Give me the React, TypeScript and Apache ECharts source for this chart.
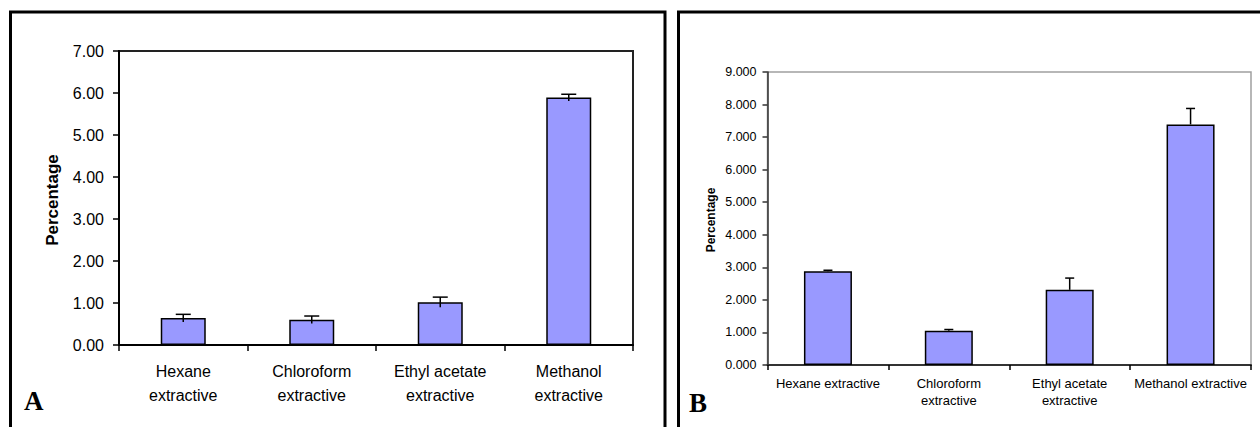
import React, { useEffect, useRef } from "react";
import * as echarts from "echarts";

const categoriesA = ["Hexane\nextractive", "Chloroform\nextractive", "Ethyl acetate\nextractive", "Methanol\nextractive"];
const valuesA = [0.64, 0.6, 1.02, 5.89];
const errorsA = [0.09, 0.09, 0.12, 0.08];

const categoriesB = ["Hexane extractive", "Chloroform\nextractive", "Ethyl acetate\nextractive", "Methanol extractive"];
const valuesB = [2.88, 1.05, 2.31, 7.39];
const errorsB = [0.03, 0.04, 0.36, 0.49];

const yAxisTitle = "Percentage";
const panelLabels = ["A", "B"];

const FONT = "'Liberation Sans', Arial, sans-serif";

function errorSeries(xIdx: number, vals: number[], errs: number[], both: boolean, capW: number) {
  return {
    type: "custom",
    xAxisIndex: xIdx,
    yAxisIndex: xIdx,
    z: 10,
    silent: true,
    data: vals.map((v, i) => [i, v, errs[i]]),
    encode: { x: 0, y: 1 },
    renderItem: (params: any, api: any) => {
      const i = api.value(0);
      const v = api.value(1);
      const e = api.value(2);
      const top = api.coord([i, v + e]);
      const bot = api.coord([i, both ? v - e : v]);
      const st = { stroke: "#000", lineWidth: 1.5 };
      return {
        type: "group",
        children: [
          { type: "line", shape: { x1: top[0], y1: top[1], x2: bot[0], y2: bot[1] }, style: st },
          { type: "line", shape: { x1: top[0] - capW / 2, y1: top[1], x2: top[0] + capW / 2, y2: top[1] }, style: st },
        ],
      };
    },
  };
}

export default function App() {
  const ref = useRef<HTMLDivElement>(null);
  useEffect(() => {
    document.body.style.margin = "0";
    const chart = echarts.init(ref.current!, undefined, { renderer: "svg" });
    chart.setOption({
      animation: false,
      backgroundColor: "#fff",
      textStyle: { fontFamily: FONT },
      grid: [
        { left: 119, top: 51, width: 514, height: 294, show: true, borderColor: "#222", borderWidth: 2, backgroundColor: "#fff" },
        { left: 767.5, top: 72, width: 483.5, height: 293, show: true, borderColor: "#a0a0a0", borderWidth: 1.5, backgroundColor: "#fff" },
      ],
      xAxis: [
        {
          type: "category",
          gridIndex: 0,
          data: categoriesA,
          axisLine: { lineStyle: { color: "#000", width: 2 } },
          axisTick: { show: true, length: 6, lineStyle: { color: "#000", width: 1.5 } },
          axisLabel: { interval: 0, color: "#000", fontSize: 16, lineHeight: 24, margin: 14, fontFamily: FONT },
        },
        {
          type: "category",
          gridIndex: 1,
          data: categoriesB,
          axisLine: { lineStyle: { color: "#333", width: 2 } },
          axisTick: { show: true, length: 5, lineStyle: { color: "#000", width: 1.5 } },
          axisLabel: { interval: 0, color: "#000", fontSize: 13, lineHeight: 17, margin: 10, fontFamily: FONT },
        },
      ],
      yAxis: [
        {
          type: "value",
          gridIndex: 0,
          min: 0,
          max: 7,
          interval: 1,
          splitLine: { show: false },
          axisLine: { show: true, lineStyle: { color: "#000", width: 2 } },
          axisTick: { show: true, length: 6, lineStyle: { color: "#000", width: 1.5 } },
          axisLabel: { color: "#000", fontSize: 16, margin: 15, fontFamily: FONT, formatter: (v: number) => v.toFixed(2) },
        },
        {
          type: "value",
          gridIndex: 1,
          min: 0,
          max: 9,
          interval: 1,
          splitLine: { show: false },
          axisLine: { show: true, lineStyle: { color: "#333", width: 1.5 } },
          axisTick: { show: true, length: 5, lineStyle: { color: "#333", width: 1.5 } },
          axisLabel: { color: "#000", fontSize: 12.5, margin: 11, fontFamily: FONT, formatter: (v: number) => v.toFixed(3) },
        },
      ],
      series: [
        {
          type: "bar",
          xAxisIndex: 0,
          yAxisIndex: 0,
          data: valuesA,
          barWidth: 45,
          itemStyle: { color: "#9999ff", borderColor: "#000", borderWidth: 1.5 },
        },
        {
          type: "bar",
          xAxisIndex: 1,
          yAxisIndex: 1,
          data: valuesB,
          barWidth: 48,
          itemStyle: { color: "#9999ff", borderColor: "#000", borderWidth: 1.5 },
        },
        errorSeries(0, valuesA, errorsA, true, 15),
        errorSeries(1, valuesB, errorsB, false, 9),
      ],
      graphic: [
        { type: "rect", z: 100, shape: { x: 10.5, y: 12, width: 654.5, height: 500 }, style: { fill: "none", stroke: "#000", lineWidth: 3 } },
        { type: "rect", z: 100, shape: { x: 678.5, y: 12, width: 700, height: 500 }, style: { fill: "none", stroke: "#000", lineWidth: 3 } },
        {
          type: "text",
          x: 52,
          y: 200,
          rotation: Math.PI / 2,
          style: { text: yAxisTitle, fill: "#000", font: `bold 17px ${FONT}`, textAlign: "center", textVerticalAlign: "middle" },
        },
        {
          type: "text",
          x: 710.5,
          y: 220,
          rotation: Math.PI / 2,
          style: { text: yAxisTitle, fill: "#000", font: `bold 12px ${FONT}`, textAlign: "center", textVerticalAlign: "middle" },
        },
        {
          type: "text",
          x: 24,
          y: 414,
          style: { text: panelLabels[0], fill: "#000", font: `bold 27px 'Liberation Serif', 'Times New Roman', serif`, textAlign: "left", textVerticalAlign: "bottom" },
        },
        {
          type: "text",
          x: 689,
          y: 416,
          style: { text: panelLabels[1], fill: "#000", font: `bold 27px 'Liberation Serif', 'Times New Roman', serif`, textAlign: "left", textVerticalAlign: "bottom" },
        },
      ],
    });
    return () => chart.dispose();
  }, []);
  return <div ref={ref} style={{ width: 1260, height: 427 }} />;
}
